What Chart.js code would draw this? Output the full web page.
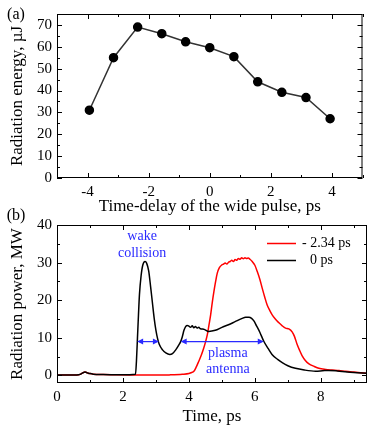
<!DOCTYPE html>
<html>
<head>
<meta charset="utf-8">
<script src="https://cdn.jsdelivr.net/npm/chart.js@4.4.1/dist/chart.umd.min.js"></script>
<style>
  html, body { margin: 0; padding: 0; background: #fff; }
  #wrap { position: relative; width: 368px; height: 427px; }
  canvas { position: absolute; left: 0; }
  #c1 { top: 0; }
  #c2 { top: 200px; }
</style>
</head>
<body>
<div id="wrap">
  <canvas id="c1" width="368" height="217"></canvas>
  <canvas id="c2" width="368" height="227"></canvas>
</div>
<script>
// ---------- panel (a): energy vs delay ----------
const delay  = [-3.94, -3.15, -2.36, -1.57, -0.79, 0, 0.79, 1.57, 2.36, 3.15, 3.94];
const energy = [31, 55, 69, 66, 62.3, 59.6, 55.5, 44, 39.2, 36.8, 27.1];
const delayTicks  = [-4, -2, 0, 2, 4];
const energyTicks = [0, 10, 20, 30, 40, 50, 60, 70];

// ---------- panel (b): power vs time ----------
// 0 ps (black)
const time0  = [0, 0.3, 0.6, 0.7, 0.78, 0.85, 0.92, 1.0, 1.1, 1.4, 1.8, 2.2, 2.38, 2.41, 2.44, 2.47, 2.5, 2.55, 2.6, 2.67, 2.72, 2.78, 2.84, 2.9, 2.95, 3.0, 3.05, 3.1, 3.2, 3.3, 3.42, 3.5, 3.6, 3.7, 3.75, 3.8, 3.85, 3.9, 3.95, 4.0, 4.05, 4.1, 4.15, 4.2, 4.25, 4.3, 4.35, 4.45, 4.6, 4.8, 5.0, 5.2, 5.4, 5.6, 5.72, 5.82, 5.9, 5.97, 6.05, 6.15, 6.27, 6.4, 6.52, 6.7, 6.83, 7.0, 7.23, 7.5, 7.84, 8.05, 8.24, 8.5, 8.8, 9.1, 9.4];
const power0 = [0.1, 0.1, 0.15, 0.3, 0.7, 0.9, 0.7, 0.5, 0.35, 0.25, 0.2, 0.2, 0.3, 4, 10, 16, 21.5, 26.5, 29.3, 30.3, 29.8, 27.8, 23.5, 18.8, 15, 12, 9.8, 8.3, 6.8, 6, 5.6, 5.8, 6.8, 8.2, 9, 10.3, 12, 13, 13.3, 13.1, 12.8, 13.2, 12.7, 13, 12.6, 12.8, 12.4, 12.3, 11.7, 12, 12.8, 13.5, 14.3, 15.1, 15.5, 15.5, 15.2, 14.5, 13.2, 11.5, 9.1, 7.2, 5.6, 4.2, 3.4, 2.6, 1.9, 1.45, 1.15, 1.25, 1.35, 1.2, 0.9, 0.75, 0.6];
// -2.34 ps (red)
const timeR  = [0, 0.3, 0.6, 0.7, 0.78, 0.85, 0.92, 1.0, 1.1, 1.4, 1.8, 2.2, 2.6, 3.0, 3.4, 3.8, 4.0, 4.08, 4.15, 4.22, 4.3, 4.38, 4.45, 4.5, 4.56, 4.61, 4.66, 4.71, 4.76, 4.81, 4.86, 4.92, 5.0, 5.05, 5.1, 5.15, 5.2, 5.25, 5.3, 5.35, 5.4, 5.45, 5.5, 5.55, 5.6, 5.65, 5.7, 5.75, 5.8, 5.85, 5.92, 6.0, 6.07, 6.15, 6.22, 6.3, 6.37, 6.45, 6.52, 6.62, 6.73, 6.83, 6.93, 7.03, 7.13, 7.2, 7.28, 7.36, 7.43, 7.53, 7.64, 7.8, 7.94, 8.15, 8.34, 8.55, 8.75, 9.0, 9.2, 9.4];
const powerR = [0.1, 0.1, 0.15, 0.3, 0.7, 0.9, 0.7, 0.5, 0.35, 0.25, 0.2, 0.15, 0.1, 0.1, 0.15, 0.3, 0.5, 0.8, 1.1, 2.2, 3.8, 5.5, 7.3, 8.8, 10.9, 13.5, 16.2, 19.5, 22.4, 25, 27.2, 28.6, 29.4, 29.6, 29.9, 29.6, 30.1, 30.3, 30.6, 30.3, 30.8, 30.6, 31.1, 30.9, 31.3, 31.0, 31.3, 31.1, 31.2, 30.9, 30.3, 29.3, 27.7, 25.6, 23.3, 20.8, 18.8, 17.3, 16.2, 15.0, 14.0, 13.2, 12.6, 12.4, 11.6, 10.4, 8.3, 6.6, 5.3, 4.0, 3.1, 2.4, 1.9, 1.6, 1.45, 1.3, 1.1, 0.9, 0.75, 0.6];
const timeTicks  = [0, 2, 4, 6, 8];
const powerTicks = [0, 10, 20, 30, 40];

// arrows: [from, to, level]
const wakeArrow   = [2.43, 3.09, 9];
const plasmaArrow = [3.75, 6.27, 9];

const SERIF = '"Liberation Serif", "DejaVu Serif", serif';
const BLUE = '#2a2aff';

function pts(xs, ys) { return xs.map((x, i) => ({ x: x, y: ys[i] })); }
function stepList(lo, hi, step) { const out = []; for (let v = lo; v <= hi + 1e-9; v += step) out.push(+v.toFixed(4)); return out; }

// box round the plot with inward ticks on all four sides
const frame = {
  id: 'frame',
  afterDatasetsDraw(chart, args, o) {
    const { ctx, chartArea: a, scales: { x, y } } = chart;
    ctx.save();
    ctx.strokeStyle = '#000';
    ctx.lineWidth = 1;
    ctx.strokeRect(a.left + 0.5, a.top + 0.5, a.right - a.left - 1, a.bottom - a.top - 1);
    ctx.beginPath();
    o.xMinor.forEach(v => {
      const len = o.xMajor.includes(v) ? 5 : 3;
      const px = Math.round(x.getPixelForValue(v)) + 0.5;
      ctx.moveTo(px, a.bottom); ctx.lineTo(px, a.bottom - len);
      ctx.moveTo(px, a.top); ctx.lineTo(px, a.top + len);
    });
    o.yMinor.forEach(v => {
      const len = o.yMajor.includes(v) ? 5 : 3;
      const py = Math.round(y.getPixelForValue(v)) + 0.5;
      ctx.moveTo(a.left, py); ctx.lineTo(a.left + len, py);
      ctx.moveTo(a.right, py); ctx.lineTo(a.right - len, py);
    });
    ctx.stroke();
    ctx.restore();
  }
};

// panel letter
const letter = {
  id: 'letter',
  afterDraw(chart, args, o) {
    const ctx = chart.ctx;
    ctx.save();
    ctx.fillStyle = '#000';
    ctx.font = '16px ' + SERIF;
    ctx.textAlign = 'center';
    ctx.textBaseline = 'middle';
    ctx.fillText(o.text, o.x, o.y);
    ctx.restore();
  }
};

function arrow(ctx, x1, x2, y) {
  const h = 6, w = 3;
  ctx.beginPath();
  ctx.moveTo(x1 + 2, y); ctx.lineTo(x2 - 2, y);
  ctx.stroke();
  ctx.beginPath();
  ctx.moveTo(x1, y); ctx.lineTo(x1 + h, y - w); ctx.lineTo(x1 + h, y + w); ctx.closePath();
  ctx.moveTo(x2, y); ctx.lineTo(x2 - h, y - w); ctx.lineTo(x2 - h, y + w); ctx.closePath();
  ctx.fill();
}

// annotations + legend for panel (b)
const notes = {
  id: 'notes',
  afterDatasetsDraw(chart) {
    const { ctx, scales: { x, y } } = chart;
    ctx.save();
    ctx.strokeStyle = BLUE;
    ctx.fillStyle = BLUE;
    ctx.lineWidth = 1.2;
    arrow(ctx, x.getPixelForValue(wakeArrow[0]), x.getPixelForValue(wakeArrow[1]), y.getPixelForValue(wakeArrow[2]));
    arrow(ctx, x.getPixelForValue(plasmaArrow[0]), x.getPixelForValue(plasmaArrow[1]), y.getPixelForValue(plasmaArrow[2]));
    ctx.font = '14px ' + SERIF;
    ctx.textAlign = 'center';
    ctx.textBaseline = 'middle';
    ctx.fillText('wake', x.getPixelForValue(2.58), y.getPixelForValue(36.9));
    ctx.fillText('collision', x.getPixelForValue(2.58), y.getPixelForValue(32.6));
    ctx.fillText('plasma', x.getPixelForValue(5.18), y.getPixelForValue(5.8));
    ctx.fillText('antenna', x.getPixelForValue(5.18), y.getPixelForValue(1.6));

    // legend
    ctx.lineWidth = 1.5;
    ctx.textAlign = 'left';
    ctx.strokeStyle = '#ff0000';
    ctx.beginPath(); ctx.moveTo(267, 43.5); ctx.lineTo(296, 43.5); ctx.stroke();
    ctx.strokeStyle = '#000';
    ctx.beginPath(); ctx.moveTo(267, 60.5); ctx.lineTo(296, 60.5); ctx.stroke();
    ctx.fillStyle = '#000';
    ctx.fillText('- 2.34 ps', 302, 43);
    ctx.fillText('0 ps', 310, 60);
    ctx.restore();
  }
};

function axisX(min, max, ticks, title, height, pad) {
  return {
    type: 'linear', min: min, max: max,
    grid: { display: false, drawTicks: false },
    border: { display: false },
    afterBuildTicks: s => { s.ticks = ticks.map(v => ({ value: v })); },
    afterFit: s => { s.height = height; },
    ticks: { color: '#000', font: { family: SERIF, size: 15 }, padding: pad, maxRotation: 0 },
    title: { display: true, text: title, color: '#000', font: { family: SERIF, size: 17 }, padding: { top: 0, bottom: 0 } }
  };
}

function axisY(min, max, ticks, title) {
  return {
    type: 'linear', min: min, max: max,
    grid: { display: false, drawTicks: false },
    border: { display: false },
    afterBuildTicks: s => { s.ticks = ticks.map(v => ({ value: v })); },
    afterFit: s => { s.width = 57; },
    ticks: { color: '#000', font: { family: SERIF, size: 15 }, padding: 5 },
    title: { display: true, text: title, color: '#000', font: { family: SERIF, size: 17 }, padding: { top: 7, bottom: 0 } }
  };
}

new Chart(document.getElementById('c1'), {
  type: 'line',
  data: {
    datasets: [{
      data: pts(delay, energy),
      borderColor: '#333',
      borderWidth: 1.5,
      pointBackgroundColor: '#000',
      pointBorderColor: '#000',
      pointRadius: 4,
      tension: 0
    }]
  },
  options: {
    responsive: false,
    animation: false,
    devicePixelRatio: 1,
    layout: { padding: { top: 8, right: 1, left: 0, bottom: 0 } },
    plugins: {
      legend: { display: false },
      tooltip: { enabled: false },
      frame: { xMajor: delayTicks, xMinor: stepList(-5, 5, 1), yMajor: energyTicks, yMinor: stepList(0, 75, 5) },
      letter: { text: '(a)', x: 16, y: 15 }
    },
    scales: {
      x: axisX(-5, 5, delayTicks, 'Time-delay of the wide pulse, ps', 39, 5),
      y: axisY(0, 75, energyTicks, 'Radiation energy, \u00b5J')
    }
  },
  plugins: [frame, letter]
});

new Chart(document.getElementById('c2'), {
  type: 'line',
  data: {
    datasets: [
      { label: '0 ps', data: pts(time0, power0), borderColor: '#000', borderWidth: 1.5, pointRadius: 0, cubicInterpolationMode: 'monotone' },
      { label: '- 2.34 ps', data: pts(timeR, powerR), borderColor: '#ff0000', borderWidth: 1.5, pointRadius: 0, cubicInterpolationMode: 'monotone' }
    ]
  },
  options: {
    responsive: false,
    animation: false,
    devicePixelRatio: 1,
    layout: { padding: { top: 25, right: 1, left: 0, bottom: 0 } },
    plugins: {
      legend: { display: false },
      tooltip: { enabled: false },
      frame: { xMajor: timeTicks, xMinor: stepList(0, 9, 1), yMajor: powerTicks, yMinor: stepList(0, 40, 5) },
      letter: { text: '(b)', x: 16, y: 16 }
    },
    scales: {
      x: axisX(0, 9.4, timeTicks, 'Time, ps', 44, 5),
      y: axisY(-2, 40, powerTicks, 'Radiation power, MW')
    }
  },
  plugins: [frame, notes, letter]
});
</script>
</body>
</html>
